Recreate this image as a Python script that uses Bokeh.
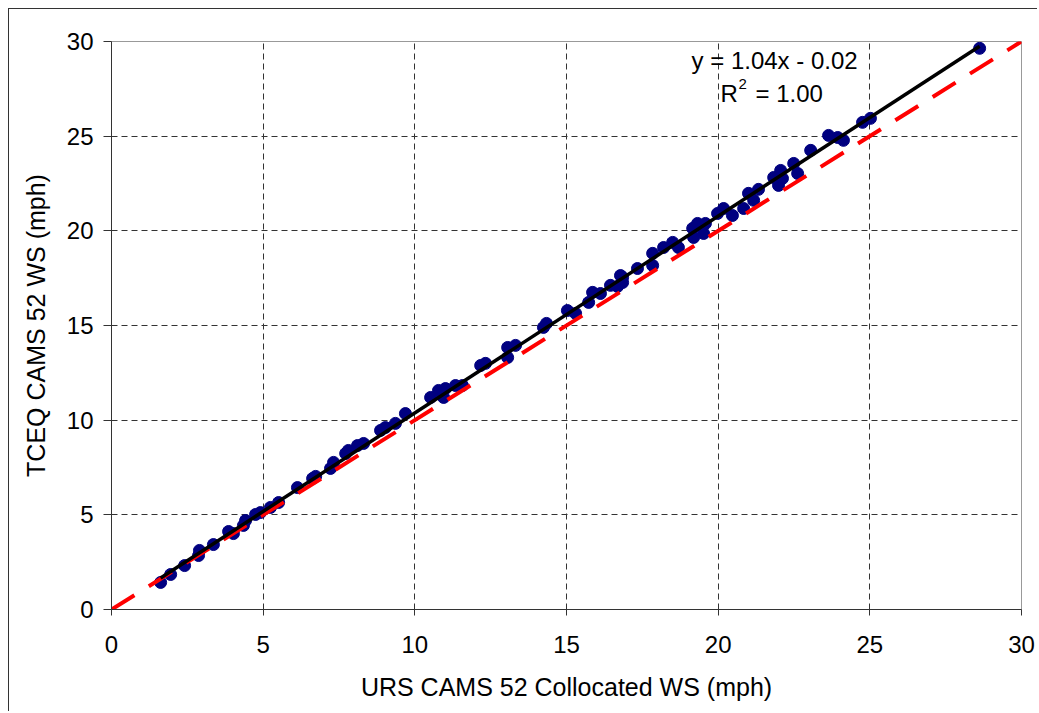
import numpy as np
from bokeh.plotting import figure
from bokeh.models import Label, Range1d, FixedTicker
from bokeh.embed import file_html
from bokeh.resources import INLINE

# URS CAMS 52 collocated wind speed (mph)
urs_ws = [1.62, 1.95, 2.41, 2.87, 2.90, 3.36, 3.86, 4.02, 4.35, 4.42,
          4.75, 4.91, 5.24, 5.51, 6.13, 6.63, 6.73, 7.22, 7.32, 7.72,
          7.81, 8.11, 8.31, 8.87, 9.03, 9.36, 9.69, 10.52, 10.78, 10.95,
          11.01, 11.34, 11.57, 12.17, 12.33, 13.06, 13.32, 13.06, 14.24, 14.34,
          15.03, 15.30, 15.73, 15.86, 16.12, 16.45, 16.68, 16.85, 16.78, 16.85,
          17.34, 17.84, 17.84, 18.20, 18.50, 18.69, 19.16, 19.32, 19.58, 19.52,
          19.19, 19.98, 20.18, 20.47, 20.84, 21.00, 21.33, 21.17, 21.83, 22.06,
          21.99, 22.12, 22.49, 22.62, 23.05, 23.64, 23.94, 24.13, 24.76, 25.02,
          28.62]
# TCEQ CAMS 52 wind speed (mph)
tceq_ws = [1.43, 1.85, 2.32, 2.85, 3.12, 3.43, 4.12, 4.01, 4.44, 4.70,
           5.02, 5.12, 5.39, 5.65, 6.44, 6.92, 7.03, 7.45, 7.77, 8.24,
           8.40, 8.66, 8.77, 9.46, 9.61, 9.83, 10.35, 11.20, 11.57, 11.20,
           11.67, 11.83, 11.83, 12.89, 13.00, 13.84, 13.95, 13.31, 14.90, 15.11,
           15.79, 15.64, 16.22, 16.75, 16.69, 17.12, 17.06, 17.54, 17.64, 17.27,
           18.01, 18.81, 18.17, 19.12, 19.39, 19.12, 20.13, 20.39, 20.39, 19.86,
           19.65, 20.92, 21.18, 20.81, 21.18, 21.98, 22.19, 21.61, 22.82, 23.19,
           22.40, 22.77, 23.56, 23.03, 24.25, 25.04, 24.93, 24.78, 25.73, 25.94,
           29.64]

fit_slope = 1.04
fit_intercept = -0.02
one_to_one = [0, 30]
tick_values = [0, 5, 10, 15, 20, 25, 30]

FONT = "Liberation Sans"

p = figure(width=1029, height=703,
           x_range=Range1d(0, 30), y_range=Range1d(0, 30),
           output_backend="svg", toolbar_location=None,
           min_border_left=102, min_border_right=17,
           min_border_top=32, min_border_bottom=103,
           background_fill_color="white", border_fill_color="white")
p.styles = {"margin-left": "8px", "margin-top": "8px",
            "border-left": "1px solid #333333", "border-top": "1px solid #333333"}

p.outline_line_color = "#999999"
p.outline_line_width = 1

for ax in (p.xaxis[0], p.yaxis[0]):
    ax.ticker = FixedTicker(ticks=tick_values)
    ax.axis_line_color = "#333333"
    ax.axis_line_width = 1
    ax.major_tick_line_color = "#333333"
    ax.major_tick_in = 0
    ax.minor_tick_line_color = None
    ax.major_label_text_font = FONT
    ax.major_label_text_font_size = "24px"
    ax.major_label_text_color = "black"
    ax.axis_label_text_font = FONT
    ax.axis_label_text_font_size = "25px"
    ax.axis_label_text_font_style = "normal"
    ax.axis_label_text_color = "black"

p.xaxis.major_tick_out = 6
p.yaxis.major_tick_out = 8
p.xaxis.major_label_standoff = 20
p.yaxis.major_label_standoff = 10
p.xaxis.axis_label = "URS CAMS 52 Collocated WS (mph)"
p.yaxis.axis_label = "TCEQ CAMS 52 WS (mph)"
p.xaxis.axis_label_standoff = 17
p.yaxis.axis_label_standoff = 14

for g in (p.xgrid[0], p.ygrid[0]):
    g.ticker = FixedTicker(ticks=tick_values)
    g.grid_line_color = "#333333"
    g.grid_line_width = 1
    g.grid_line_dash = "6 4"

p.scatter(urs_ws, tceq_ws, size=12, color="#000080", line_color="#000080")
p.line(one_to_one, one_to_one, color="#ff0000", line_width=4, line_dash="27 17")

fit_x = np.array([min(urs_ws), max(urs_ws)])
fit_y = fit_slope * fit_x + fit_intercept
p.line(fit_x, fit_y, color="black", line_width=3.5)

common = dict(text_font=FONT, text_color="black", text_baseline="alphabetic")
p.add_layout(Label(x=21.86, y=29.0, text="y = 1.04x - 0.02", text_align="center",
                   text_font_size="24px", **common))
p.add_layout(Label(x=20.08, y=27.26, text="R", text_align="left",
                   text_font_size="24px", **common))
p.add_layout(Label(x=20.67, y=27.78, text="2", text_align="left",
                   text_font_size="15px", **common))
p.add_layout(Label(x=21.23, y=27.26, text="= 1.00", text_align="left",
                   text_font_size="24px", **common))

open("out.html", "w").write(file_html(p, INLINE))
